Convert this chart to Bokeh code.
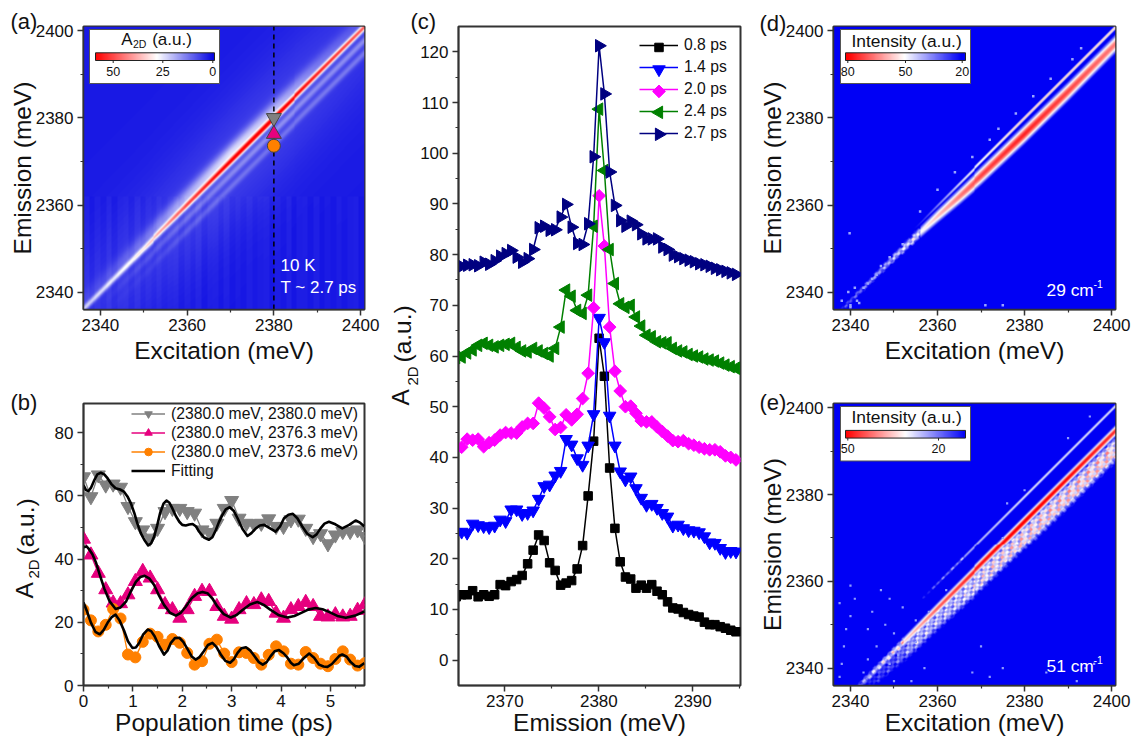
import numpy as np
from bokeh.plotting import figure
from bokeh.layouts import row, column
from bokeh.core.properties import value
from bokeh.models import Label, Legend, LegendItem, Range1d, FixedTicker, LinearColorMapper
from bokeh.embed import file_html
from bokeh.resources import INLINE

FONT = "Liberation Sans"

# ---------- panel (b) data ----------
pop_time = [0.0,0.15,0.3,0.45,0.6,0.75,0.9,1.05,1.2,1.35,1.5,1.65,1.8,1.95,2.1,2.25,2.4,2.55,2.7,2.85,3.0,3.15,3.3,3.45,3.6,3.75,3.9,4.05,4.2,4.35,4.5,4.65,4.8,4.95,5.1,5.25,5.4,5.55,5.7]
grey_pts = [66,59.7,66.6,63.4,63.7,62.7,56.6,51.8,49.2,46.6,49.7,55,56,56,55,54.5,49.2,48.4,51.3,56,58.5,52.9,51.3,51.1,51.3,52.7,50.3,50.3,52.4,52.6,49.7,47.1,48,44.8,47.6,48.7,48.7,49.2,47.1]
pink_pts = [46.3,41.3,35.5,30.3,26.1,25.9,28.7,32.9,36.1,34,30.3,25.6,24,21.3,24,28.2,29.8,29.8,25,21.9,21,24,25.9,25.6,27.1,26.6,22.9,21.3,24,25,26.3,25,21.9,21.7,22.4,21.7,21.9,23.8,25.6]
orange_pts = [24,20.6,17.1,19.2,24.2,21.2,9.8,8.9,13.8,16.4,15.4,12.9,14.7,13.5,10.3,6.6,7.7,13.2,14.5,10.1,7.4,10.5,10.3,8.7,6.6,9.7,12.4,10.8,6.9,6.6,10.6,8.7,6.9,6.1,8.4,10.8,8.2,6.3,7.1]
grey_fit_t = [0,.05,.1,.15,.22,.28,.35,.42,.49,.57,.65,.74,.82,.89,.96,1.03,1.09,1.16,1.23,1.31,1.37,1.43,1.49,1.55,1.62,1.68,1.74,1.80,1.87,1.94,2.0,2.07,2.14,2.21,2.28,2.34,2.44,2.54,2.61,2.68,2.74,2.81,2.88,2.96,3.04,3.12,3.22,3.32,3.40,3.49,3.57,3.66,3.77,3.89,3.98,4.06,4.15,4.24,4.33,4.43,4.53,4.64,4.72,4.80,4.88,4.97,5.1,5.24,5.38,5.51,5.6,5.69]
grey_fit_v = [63.4,61.8,61.5,62.5,65,66.8,67.3,66.8,65.5,63.6,62.4,62,61.3,59.8,57.6,54.5,51.3,48.2,46.1,44.3,45,47.1,50.5,54.5,57.5,58.5,57.8,56,53.6,51.8,50.8,50.6,50.9,51.1,50.3,48.7,46.8,46.1,46.9,49.2,51.6,53.9,55.7,56.4,55.3,52.9,49.5,47.3,48.2,49.7,50.6,50.8,49.8,48.7,50.3,52.9,54,54.3,52.9,50.3,48,46.9,47.8,49.7,51.2,51.8,51,49.7,50.8,52.2,51.5,50.3]
pink_fit_t = [0,.06,.11,.18,.25,.33,.42,.53,.65,.75,.86,.96,1.06,1.15,1.24,1.33,1.43,1.53,1.63,1.75,1.87,1.97,2.07,2.19,2.31,2.41,2.51,2.61,2.71,2.84,2.98,3.1,3.22,3.37,3.52,3.65,3.79,3.96,4.13,4.27,4.4,4.55,4.7,4.84,4.97,5.14,5.31,5.5,5.69]
pink_fit_v = [43.7,44,43.2,41.5,39,35,30.7,26.6,24.2,24.7,26.5,29.8,32.8,34.3,34.7,33.9,31.8,28.4,25.5,23,22.1,23,24.9,27.6,29.2,29.6,29.2,27.5,25,22.6,21.5,22.3,23.9,25.6,26.4,25.5,23.9,22.2,21.5,22,22.9,24,24.5,24.1,23.3,22,21.4,22.1,23.4]
orange_fit_t = [0,.07,.15,.24,.33,.41,.49,.57,.65,.73,.82,.9,.99,1.06,1.13,1.21,1.3,1.37,1.44,1.53,1.63,1.7,1.77,1.85,1.94,2.02,2.11,2.19,2.27,2.35,2.44,2.52,2.61,2.69,2.78,2.87,2.97,3.04,3.12,3.2,3.29,3.38,3.46,3.55,3.63,3.71,3.79,3.87,3.96,4.05,4.13,4.2,4.26,4.36,4.47,4.57,4.67,4.77,4.86,4.94,5.03,5.11,5.18,5.24,5.33,5.41,5.5,5.58,5.69]
orange_fit_v = [26.3,23.5,19.9,17,16.2,17.6,19.9,21.6,22.4,20.6,17.4,14,11.9,12,13.5,16.2,17.7,17.2,15.6,12.5,9.8,11,13.5,15,15.1,13.8,11.4,9.2,8.2,9,10.9,12.8,13.5,12.2,9.8,7.8,7.2,8.2,10.3,11.8,12.1,11,9.3,7.4,6.6,7.4,9.3,10.8,11.2,10.2,8.8,7.2,6.4,6.9,8.8,10.1,8.8,6.6,6,5.9,6.8,8.2,9.4,9.8,9.1,7.4,6.2,5.9,7.1]
b_labels = ["(2380.0 meV, 2380.0 meV)","(2380.0 meV, 2376.3 meV)","(2380.0 meV, 2373.6 meV)","Fitting"]

# ---------- panel (c) data ----------
emission = [2364.82,2365.405,2365.99,2366.575,2367.16,2367.745,2368.33,2368.915,2369.5,2370.085,2370.67,2371.255,2371.84,2372.425,2373.01,2373.595,2374.18,2374.765,2375.35,2375.935,2376.52,2377.105,2377.69,2378.275,2378.86,2379.445,2380.03,2380.59,2381.15,2381.71,2382.27,2382.83,2383.39,2383.95,2384.51,2385.07,2385.63,2386.19,2386.75,2387.31,2387.87,2388.43,2388.99,2389.55,2390.11,2390.67,2391.23,2391.79,2392.35,2392.91,2393.47,2394.03,2394.59]
s_08 = [12.5,12.9,12.9,13.7,12.5,12.9,12.6,12.9,14.9,14.7,15.5,15.9,16.7,19,21.7,24.7,23.6,19.2,17.7,14.8,15.2,15.7,18,22.6,32.4,43.2,63.5,56,37.9,26,19.4,16.4,16,14.2,14.8,14.2,14.9,13.6,12.9,11.5,10.3,10.1,9.4,9,8.7,8.5,7.5,7,7,6.6,6.3,5.9,5.6]
s_14 = [25.2,25.3,25.1,26.9,26.6,26.4,26.2,26.5,27.7,27.4,29.7,29.7,28.8,29,29.5,31.8,34.3,34.6,36.4,37.3,43.6,42.5,39.8,38.5,42.3,48.5,67.5,62.7,48.2,42.3,37.2,35.6,36.2,33.9,32,30.6,30.8,30,29,28.3,26.5,26.7,26,25.6,25.5,25.2,24.4,23.2,23.1,22.1,21.3,21.5,21.4]
s_20 = [41.8,42,43.6,43.4,43.6,42.1,42.9,43.4,44.4,44.9,44.8,44.8,46,46.7,46.7,50.7,49.7,48,45.5,45.9,48.4,47.4,48.5,51.6,56.6,69.5,91.6,81.7,65.7,57,53.1,50,50.1,48.7,47.2,47,47,46,45.1,44.2,43.3,43.1,43.3,42.7,42.4,42,41.7,41.5,41.5,41.1,40.3,40,39.5]
s_24 = [59.7,59.8,60.6,61.2,62.1,62.5,62.1,61.8,62.1,62.3,62.5,61.7,61,60.8,61.5,61,60.5,60,61.5,65.7,73,71.8,69,68.4,72,85.6,108.7,96.6,81,74.3,70.3,69.6,70,67.7,65.9,64.1,63.8,62.8,62.6,62.6,61.5,61,60.8,60.3,60,59.8,59.4,59.2,59,58.6,58.2,57.9,57.6]
s_27 = [77.7,77.7,77.9,78,77.8,78.5,78.1,78.8,79.7,80.2,80.8,79.5,78.5,79.2,81,85.3,85.6,84.8,84.9,87.4,89.9,85.4,82.2,82,86.1,99.3,121.2,111.7,96.3,89.7,86.7,85.6,86.6,85.9,84.1,83.1,83.1,83.1,81.5,81,79.9,79.6,79.2,78.9,78.6,78.2,78,77.7,77.3,77,76.7,76.4,76.1]
c_labels = ["0.8 ps","1.4 ps","2.0 ps","2.4 ps","2.7 ps"]

# ---------- heat-map tables (x = excitation in meV, amp = intensity read by eye) ----------
xa = [2336,2345,2350,2355,2360,2370,2378,2385,2400]
a_main = [16,20,23,30,38,47,54,48,42]
xb = [2336,2340,2350,2360,2370,2380,2390,2401]
a_shoulder = [2,3,7,13,18,14,7,3]
a_line1 = [0,0,3,6,8,9,9,10]
a_line2 = [0,0,1,4,6,6,7,8]
a_stripes = [0.6,-0.5,0.4,-0.3,0.7,-0.6,0.3,0.5,-0.4,0.6,-0.5,0.2,-0.3,0.5,-0.2,0.3]

xd = [2336,2340,2345,2350,2355,2360,2365,2370,2380,2390,2401]
d_amp = [24,30,35,42,48,58,66,72,76,72,66]
d_cen = [-2,-2,-2,-2,-2.2,-2.5,-3,-3.4,-3.8,-4,-3.9]
d_sig = [.7,.8,.85,.95,1.1,1.25,1.4,1.5,1.55,1.55,1.55]
d_thin = [0,0,0,0,22,36,46,52,58,58,58]

e_x = [2336,2342,2346,2350,2355,2360,2365,2370,2380,2390,2401]
e_amp = [12,22,28,32,38,44,47,50,53,51,48]
e_broad = [0,10,16,18,26,26,27,30,32,33,33]
e_broad_c = [-6.5,-7,-7.5,-8,-8.3,-8.5,-9,-9.4,-9.8,-10.2,-10.4]
e_thin = [0,0,0,0,10,20,24,27,30,30,30]
tile = [[1.0,.8,1.15,.7,1.05,.9,1.2],[.75,1.1,.9,1.25,.8,1.0,.85],[1.2,.85,1.05,.9,1.15,.7,1.0],[.9,1.2,.75,1.0,.85,1.15,.8]]

d_spec_x = [2338,2339.5,2340,2341,2341.5,2343,2344,2345,2346,2347,2339.8,2342,2349,2352,2356,2360,2364,2368,2372,2374,2378,2382,2386,2391,2393,2340,2371,2375]
d_spec_y = [2338,2340,2336.5,2341,2338,2341,2342,2343,2344,2346,2353.5,2337.5,2348,2351,2358.5,2363.5,2367.5,2371,2375,2377.5,2381,2385,2389,2393.5,2396,2337,2337,2337]
e_spec_x = [2337.5,2338,2338.5,2339,2340,2341,2343,2344,2345,2346,2347,2348,2349,2351,2352,2354,2355,2357,2337.5,2340,2344,2349,2350,2355,2358,2362,2368,2372,2375,2385,2392,2394,2396,2390,2376,2380,2395,2350,2370,2375]
e_spec_y = [2338,2341,2345,2349,2352,2356,2339,2342,2353,2345,2358,2350,2341,2343,2354,2337,2346,2340,2355,2359,2349,2356,2348,2351,2353,2358,2339,2338,2370,2339,2337,2340,2341,2393,2378,2381,2398,2337,2345,2340]

XT = [2340,2360,2380,2400]
XM = [2350,2370,2390]


def palette3(low_c, mid_c, high_c, mid_frac):
    out = []
    for i in range(256):
        f = i / 255
        if f < mid_frac:
            t = f / mid_frac
            c = [low_c[k] + t * (mid_c[k] - low_c[k]) for k in range(3)]
        else:
            t = (f - mid_frac) / (1 - mid_frac)
            c = [mid_c[k] + t * (high_c[k] - mid_c[k]) for k in range(3)]
        out.append("#%02x%02x%02x" % tuple(int(round(v)) for v in c))
    return out


def panel(fx, fy, gx, gy, xr, yr, xt, xm, yt, ym, xlabel=None, xstand=-1, ylabel=None, ystand=-3):
    p = figure(width=gx[1]-gx[0], height=gy[1]-gy[0], output_backend="svg", toolbar_location=None,
               x_range=Range1d(*xr), y_range=Range1d(*yr),
               min_border_left=fx[0]-gx[0], min_border_right=gx[1]-fx[1],
               min_border_top=fy[0]-gy[0], min_border_bottom=gy[1]-fy[1])
    p.grid.visible = False
    p.outline_line_color = "#333333"
    p.outline_line_width = 2
    p.xaxis.ticker = FixedTicker(ticks=xt, minor_ticks=xm)
    p.yaxis.ticker = FixedTicker(ticks=yt, minor_ticks=ym)
    for ax in (p.xaxis[0], p.yaxis[0]):
        ax.major_label_text_font = FONT
        ax.major_label_text_font_size = "17px"
        ax.major_label_text_color = "#111111"
        ax.major_tick_in = 0
        ax.major_tick_out = 6
        ax.minor_tick_in = 0
        ax.minor_tick_out = 3
        ax.major_tick_line_width = 1.5
        ax.minor_tick_line_width = 1.2
        ax.major_tick_line_color = "#333333"
        ax.minor_tick_line_color = "#333333"
        ax.axis_line_color = "#333333"
        ax.axis_line_width = 1.5
        ax.major_label_standoff = 4
        ax.axis_label_text_font = FONT
        ax.axis_label_text_font_size = "24.5px"
        ax.axis_label_text_font_style = "normal"
        ax.axis_label_text_color = "#111111"
    p.xaxis[0].major_label_standoff = 3
    if xlabel:
        p.xaxis[0].axis_label = xlabel
        p.xaxis[0].axis_label_standoff = xstand
    if ylabel:
        p.yaxis[0].axis_label = ylabel
        p.yaxis[0].axis_label_standoff = ystand
    p.background_fill_color = "white"
    dx = lambda px: xr[0] + (px - fx[0]) / (fx[1] - fx[0]) * (xr[1] - xr[0])
    dy = lambda py: yr[1] - (py - fy[0]) / (fy[1] - fy[0]) * (yr[1] - yr[0])
    return p, dx, dy


def text(p, dx, dy, px, py, s, size, color="#111111", align="left"):
    p.add_layout(Label(x=dx(px), y=dy(py), text=s, text_font=FONT, text_font_size=f"{size}px",
                       text_color=color, text_align=align, text_baseline="middle"))


def inset(p, dx, dy, box, bar, mapper, lo, hi, ticks, label_y, title_parts):
    p.quad(left=dx(box[0]), right=dx(box[1]), top=dy(box[2]), bottom=dy(box[3]),
           fill_color="white", line_color="#555555", line_width=1)
    p.image(image=[np.linspace(hi, lo, 256).reshape(1, -1)], x=dx(bar[0]), y=dy(bar[3]),
            dw=dx(bar[1])-dx(bar[0]), dh=dy(bar[2])-dy(bar[3]), color_mapper=mapper)
    p.quad(left=dx(bar[0]), right=dx(bar[1]), top=dy(bar[2]), bottom=dy(bar[3]),
           fill_color=None, line_color="#222222", line_width=1)
    for tx, s in ticks:
        p.segment(x0=dx(tx), x1=dx(tx), y0=dy(bar[3]), y1=dy(bar[3]+2.5), line_color="#222222", line_width=1)
        text(p, dx, dy, tx, label_y, s, 12.5, align="center")
    for px, py, s, size in title_parts:
        text(p, dx, dy, px, py, s, size)


# ---------- panel (a) ----------
XR = (2336.1, 2400.9)
YR = (2336.0, 2401.0)
pa, dxa, dya = panel((83, 364), (26, 309), (0, 392), (0, 395), XR, YR, XT, XM, XT, XM,
                     xlabel="Excitation (meV)", xstand=3, ylabel="Emission (meV)")
xx = np.linspace(XR[0], XR[1], 283)
yy = np.linspace(YR[0], YR[1], 283)
X, Y = np.meshgrid(xx, yy)
D = Y - X
g = lambda d, c, s: np.exp(-0.5 * ((d - c) / s) ** 2)
Va = 3.0 + 2.5 * g(D, -1, 12) + 2.0 * g(D, -1, 10) * g(X, 2375, 18)
stripe = np.take(a_stripes, (np.floor((X - 2336) / 1.3).astype(int)) % len(a_stripes))
Va = Va + stripe * (Y < 2362)
Va = Va + np.interp(X, xa, a_main) * g(D, 0, 0.58)
Va = Va + np.interp(X, xb, a_shoulder) * g(D, 1.8, 1.6)
Va = Va + np.interp(X, xb, a_line1) * g(D, -3.1, 0.7)
Va = Va + np.interp(X, xb, a_line2) * g(D, -6.0, 0.7)
map_a = LinearColorMapper(palette=palette3((0,0,225),(255,255,255),(255,0,0),29/60), low=0, high=60)
pa.image(image=[Va], x=XR[0], y=YR[0], dw=XR[1]-XR[0], dh=YR[1]-YR[0], color_mapper=map_a)
pa.segment(x0=2380, x1=2380, y0=YR[0], y1=YR[1], line_color="black", line_width=1.5, line_dash="5 4")
pa.scatter([2380], [2380], marker="inverted_triangle", size=15, fill_color="#808080", line_color="#444444")
pa.scatter([2380], [2376.3], marker="triangle", size=15, fill_color="#e6007e", line_color="#444444")
pa.scatter([2380], [2373.6], marker="circle", size=13, fill_color="#ff8000", line_color="#444444")
inset(pa, dxa, dya, (89, 219, 29, 83), (95, 214, 52.3, 60), map_a, 0, 60,
      [(112.7, "50"), (162.3, "25"), (212.3, "0")], 71,
      [(120.7, 38.5, "A", 17), (132.5, 43.5, "2D", 10.5), (151.7, 38.5, "(a.u.)", 17)])
text(pa, dxa, dya, 280, 265, "10 K", 17, color="white")
text(pa, dxa, dya, 280, 287, "T ~ 2.7 ps", 17, color="white")

# ---------- panel (b) ----------
pb, dxb, dyb = panel((83, 364), (403, 686), (0, 392), (395, 738), (0, 5.69), (0, 89.2),
                     [0,1,2,3,4,5], [0.5,1.5,2.5,3.5,4.5,5.5], [0,20,40,60,80], [10,30,50,70],
                     xlabel="Population time (ps)")
GREY, PINK, ORANGE = "#808080", "#e6007e", "#ff8000"
lg = pb.line(pop_time, grey_pts, line_color=GREY, line_width=1.3)
mg = pb.scatter(pop_time, grey_pts, marker="inverted_triangle", size=14, color=GREY)
lp = pb.line(pop_time, pink_pts, line_color=PINK, line_width=1.3)
mp = pb.scatter(pop_time, pink_pts, marker="triangle", size=14, color=PINK)
lo = pb.line(pop_time, orange_pts, line_color=ORANGE, line_width=1.3)
mo = pb.scatter(pop_time, orange_pts, marker="circle", size=11, color=ORANGE)
for t, v in ((grey_fit_t, grey_fit_v), (pink_fit_t, pink_fit_v), (orange_fit_t, orange_fit_v)):
    fl = pb.line(t, v, line_color="black", line_width=2.6, line_join="round")
leg_b = Legend(items=[LegendItem(label=b_labels[0], renderers=[lg, mg]), LegendItem(label=b_labels[1], renderers=[lp, mp]),
                      LegendItem(label=b_labels[2], renderers=[lo, mo]), LegendItem(label=b_labels[3], renderers=[fl])],
               location=(48, 205), glyph_width=34, glyph_height=19, label_height=19, spacing=0, padding=0, margin=0,
               label_standoff=6, border_line_color=None, background_fill_alpha=0,
               label_text_font=FONT, label_text_font_size="15.7px", label_text_color="#111111")
pb.add_layout(leg_b)

# ---------- panel (c) ----------
pc, dxc, dyc = panel((458, 740), (26, 686), (392, 750), (0, 738), (2365.07, 2395.07), (-5, 125),
                     [2370,2380,2390], [2365,2375,2385,2395], list(range(0,130,10)), list(range(5,125,10)),
                     xlabel="Emission (meV)")
c_styles = [("black","square",0,8.5,s_08),("#0000ff","inverted_triangle",0,12.5,s_14),("#ff00ff","square",np.pi/4,9,s_20),
            ("#008000","triangle",np.pi/2,12.5,s_24),("#000080","triangle",-np.pi/2,12.5,s_27)]
items = []
leg_rows = [47, 69, 91, 112, 134]
for (col, mk, ang, sz, ser), lab, ry in zip(c_styles, c_labels, leg_rows):
    ln = pc.line(emission, ser, line_color=col, line_width=1.5)
    pc.scatter(emission, ser, marker=mk, size=sz, angle=ang, color=col)
    items.append(LegendItem(label=lab, renderers=[ln]))
    pc.scatter([dxc(658.5)], [dyc(ry)], marker=mk, size=sz, angle=ang, color=col, level="overlay")
leg_c = Legend(items=items, location=(181, 541), glyph_width=39, glyph_height=22, label_height=22, spacing=0, padding=0, margin=0,
               label_standoff=6, border_line_color=None, background_fill_alpha=0,
               label_text_font=FONT, label_text_font_size="15.7px", label_text_color="#111111")
pc.add_layout(leg_c)

# ---------- panel (d) ----------
pd_, dxd, dyd = panel((833, 1115), (26, 309), (750, 1132), (0, 395), XR, YR, XT, XM, XT, XM,
                      xlabel="Excitation (meV)", xstand=3, ylabel="Emission (meV)")
ti = (np.floor((X + Y) / 1.1).astype(int)) % 4
tj = (np.floor((Y - X) / 0.9).astype(int)) % 7
ripple = np.array(tile)[ti, tj]
tail = np.where(X < 2356, ripple, 1.0)
Vd = np.interp(X, xd, d_amp) * tail * g(D, np.interp(X, xd, d_cen), np.interp(X, xd, d_sig))
Vd = np.maximum(Vd, np.interp(X, xd, d_thin) * g(D, -0.1, 0.42))
map_d = LinearColorMapper(palette=palette3((0,0,245),(255,255,255),(255,0,0),0.5), low=20, high=80)
pd_.image(image=[Vd], x=XR[0], y=YR[0], dw=XR[1]-XR[0], dh=YR[1]-YR[0], color_mapper=map_d)
pd_.scatter(d_spec_x, d_spec_y, marker="square", size=2.5, color="#9aa5ff", line_width=0)
inset(pd_, dxd, dyd, (840, 970, 29, 83), (845, 965, 52.3, 60), map_d, 18, 81,
      [(847.3, "80"), (905, "50"), (961.7, "20")], 71,
      [(851, 40, "Intensity (a.u.)", 17.4)])
text(pd_, dxd, dyd, 1046, 289, "29 cm", 17.4, color="white")
text(pd_, dxd, dyd, 1093, 283, "-1", 10.5, color="white")

# ---------- panel (e) ----------
pe, dxe, dye = panel((833, 1115), (403, 686), (750, 1132), (395, 738), XR, YR, XT, XM, XT, XM,
                     xlabel="Excitation (meV)", ylabel="Emission (meV)")
tail_e = np.where(X < 2352, ripple, 1.0)
thin_e = np.where(X < 2366, ripple, 1.0)
Ve = np.interp(X, e_x, e_amp) * tail_e * g(D, -6.2, 0.9)
Ve = np.maximum(Ve, np.interp(X, e_x, e_broad) * ripple * np.minimum(1.0, 1.3 * g(D, np.interp(X, e_x, e_broad_c), 2.1)))
Ve = np.maximum(Ve, np.interp(X, e_x, e_thin) * thin_e * g(D, -0.5, 0.4))
map_e = LinearColorMapper(palette=palette3((0,0,245),(255,255,255),(255,0,0),0.5), low=12, high=51)
pe.image(image=[Ve], x=XR[0], y=YR[0], dw=XR[1]-XR[0], dh=YR[1]-YR[0], color_mapper=map_e)
pe.scatter(e_spec_x, e_spec_y, marker="square", size=2.2, color="#8f9bff", line_width=0)
inset(pe, dxe, dye, (840, 970, 406, 460.7), (845, 965, 430, 437.7), map_e, 12, 51,
      [(847.3, "50"), (938, "20")], 447.7,
      [(851, 416.7, "Intensity (a.u.)", 17.4)])
text(pe, dxe, dye, 1046, 666, "51 cm", 17.4, color="white")
text(pe, dxe, dye, 1093, 660, "-1", 10.5, color="white")

# ---------- page-wide transparent layer for the texts that sit over the margins ----------
over = figure(width=1132, height=738, min_border=0, output_backend="svg", toolbar_location=None,
              x_range=Range1d(0, 1132), y_range=Range1d(738, 0), background_fill_alpha=0, border_fill_alpha=0,
              outline_line_color=None, styles={"position": "absolute", "left": "0px", "top": "0px", "z-index": "5", "pointer-events": "none"})
over.axis.visible = False
over.grid.visible = False

def otext(px, py, s, size, angle=0.0):
    over.text([px], [py], text=[s], text_font=value(FONT), text_font_size=value(f"{size}px"), text_color="#111111",
              text_align="left", text_baseline="middle", angle=angle)

for lx, ly, s in ((10, 21, "(a)"), (10, 402, "(b)"), (410, 21, "(c)"), (759, 23, "(d)"), (759, 402, "(e)")):
    otext(lx, ly, s, 22)
# composite axis titles, subscript set as its own text
otext(24, 598, "A", 24.5, np.pi/2)
otext(33, 578, "2D", 15, np.pi/2)
otext(25, 555, "(a.u.)", 24.5, np.pi/2)
otext(400, 405, "A", 24.5, np.pi/2)
otext(412, 385, "2D", 15, np.pi/2)
otext(402, 362, "(a.u.)", 24.5, np.pi/2)

layout = row(column(pa, pb), pc, column(pd_, pe))
open("out.html", "w").write(file_html([layout, over], INLINE))
